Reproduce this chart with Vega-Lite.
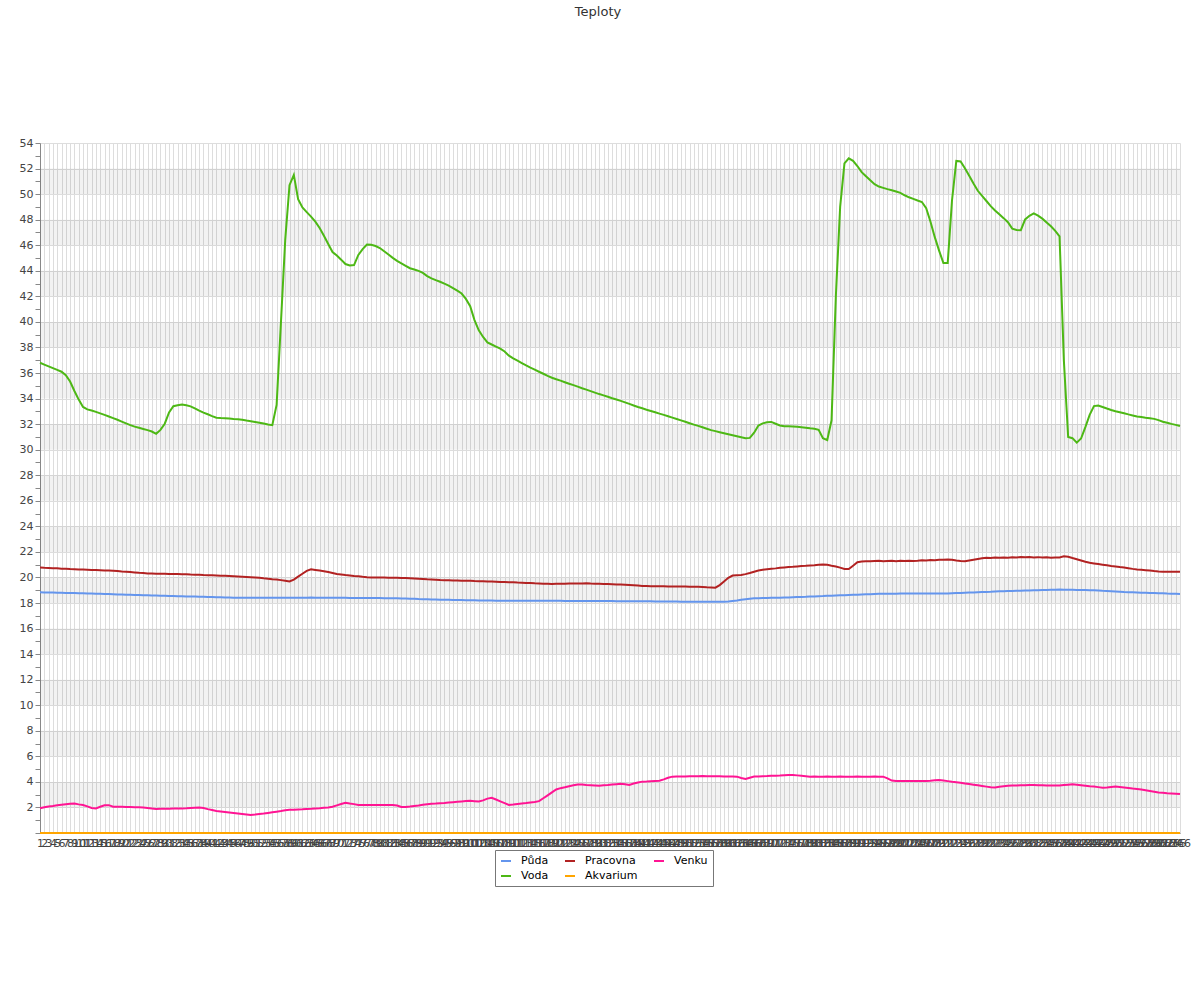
{
"$schema":"https://vega.github.io/schema/vega-lite/v6.json",
"width":1140,"height":690,
"autosize":{"type":"none"},
"padding":{"left":40,"top":143,"right":20,"bottom":167},
"background":"white",
"title":{"text":"Teploty","font":"DejaVu Sans","fontSize":13,"fontWeight":"normal","color":"#333","offset":118,"dx":-12},
"config":{"view":{"stroke":null},"font":"DejaVu Sans","axisY":{"labelOverlap":false}},
"datasets":{
"bands":[{"y":2,"y2":4},{"y":6,"y2":8},{"y":10,"y2":12},{"y":14,"y2":16},{"y":18,"y2":20},{"y":22,"y2":24},{"y":26,"y2":28},{"y":30,"y2":32},{"y":34,"y2":36},{"y":38,"y2":40},{"y":42,"y2":44},{"y":46,"y2":48},{"y":50,"y2":52}],
"teploty":[
{"t":1,"Půda":18.84,"Voda":36.8,"Pracovna":20.77,"Akvarium":0,"Venku":1.93},
{"t":2,"Půda":18.83,"Voda":36.66,"Pracovna":20.75,"Akvarium":0,"Venku":2.02},
{"t":3,"Půda":18.82,"Voda":36.52,"Pracovna":20.74,"Akvarium":0,"Venku":2.08},
{"t":4,"Půda":18.82,"Voda":36.38,"Pracovna":20.72,"Akvarium":0,"Venku":2.12},
{"t":5,"Půda":18.81,"Voda":36.24,"Pracovna":20.71,"Akvarium":0,"Venku":2.17},
{"t":6,"Půda":18.8,"Voda":36.1,"Pracovna":20.69,"Akvarium":0,"Venku":2.21},
{"t":7,"Půda":18.79,"Voda":35.83,"Pracovna":20.68,"Akvarium":0,"Venku":2.25},
{"t":8,"Půda":18.78,"Voda":35.33,"Pracovna":20.66,"Akvarium":0,"Venku":2.29},
{"t":9,"Půda":18.78,"Voda":34.59,"Pracovna":20.65,"Akvarium":0,"Venku":2.3},
{"t":10,"Půda":18.77,"Voda":33.92,"Pracovna":20.63,"Akvarium":0,"Venku":2.24},
{"t":11,"Půda":18.76,"Voda":33.34,"Pracovna":20.62,"Akvarium":0,"Venku":2.19},
{"t":12,"Půda":18.75,"Voda":33.15,"Pracovna":20.61,"Akvarium":0,"Venku":2.08},
{"t":13,"Půda":18.74,"Voda":33.06,"Pracovna":20.59,"Akvarium":0,"Venku":1.96},
{"t":14,"Půda":18.73,"Voda":32.96,"Pracovna":20.58,"Akvarium":0,"Venku":1.92},
{"t":15,"Půda":18.72,"Voda":32.84,"Pracovna":20.57,"Akvarium":0,"Venku":2.05},
{"t":16,"Půda":18.71,"Voda":32.72,"Pracovna":20.55,"Akvarium":0,"Venku":2.17},
{"t":17,"Půda":18.7,"Voda":32.6,"Pracovna":20.54,"Akvarium":0,"Venku":2.18},
{"t":18,"Půda":18.69,"Voda":32.47,"Pracovna":20.53,"Akvarium":0,"Venku":2.06},
{"t":19,"Půda":18.67,"Voda":32.34,"Pracovna":20.5,"Akvarium":0,"Venku":2.05},
{"t":20,"Půda":18.66,"Voda":32.2,"Pracovna":20.47,"Akvarium":0,"Venku":2.05},
{"t":21,"Půda":18.65,"Voda":32.06,"Pracovna":20.45,"Akvarium":0,"Venku":2.04},
{"t":22,"Půda":18.64,"Voda":31.92,"Pracovna":20.42,"Akvarium":0,"Venku":2.03},
{"t":23,"Půda":18.63,"Voda":31.8,"Pracovna":20.39,"Akvarium":0,"Venku":2.02},
{"t":24,"Půda":18.62,"Voda":31.71,"Pracovna":20.36,"Akvarium":0,"Venku":2.02},
{"t":25,"Půda":18.61,"Voda":31.62,"Pracovna":20.34,"Akvarium":0,"Venku":2.0},
{"t":26,"Půda":18.6,"Voda":31.53,"Pracovna":20.31,"Akvarium":0,"Venku":1.96},
{"t":27,"Půda":18.59,"Voda":31.42,"Pracovna":20.3,"Akvarium":0,"Venku":1.92},
{"t":28,"Půda":18.58,"Voda":31.24,"Pracovna":20.29,"Akvarium":0,"Venku":1.88},
{"t":29,"Půda":18.57,"Voda":31.55,"Pracovna":20.28,"Akvarium":0,"Venku":1.89},
{"t":30,"Půda":18.56,"Voda":32.03,"Pracovna":20.28,"Akvarium":0,"Venku":1.9},
{"t":31,"Půda":18.55,"Voda":32.92,"Pracovna":20.27,"Akvarium":0,"Venku":1.9},
{"t":32,"Půda":18.54,"Voda":33.4,"Pracovna":20.27,"Akvarium":0,"Venku":1.91},
{"t":33,"Půda":18.53,"Voda":33.47,"Pracovna":20.26,"Akvarium":0,"Venku":1.92},
{"t":34,"Půda":18.52,"Voda":33.54,"Pracovna":20.25,"Akvarium":0,"Venku":1.92},
{"t":35,"Půda":18.51,"Voda":33.47,"Pracovna":20.25,"Akvarium":0,"Venku":1.93},
{"t":36,"Půda":18.5,"Voda":33.39,"Pracovna":20.23,"Akvarium":0,"Venku":1.96},
{"t":37,"Půda":18.5,"Voda":33.23,"Pracovna":20.22,"Akvarium":0,"Venku":1.98},
{"t":38,"Půda":18.49,"Voda":33.05,"Pracovna":20.21,"Akvarium":0,"Venku":2.0},
{"t":39,"Půda":18.48,"Voda":32.9,"Pracovna":20.19,"Akvarium":0,"Venku":1.95},
{"t":40,"Půda":18.47,"Voda":32.77,"Pracovna":20.18,"Akvarium":0,"Venku":1.87},
{"t":41,"Půda":18.46,"Voda":32.63,"Pracovna":20.17,"Akvarium":0,"Venku":1.8},
{"t":42,"Půda":18.45,"Voda":32.5,"Pracovna":20.16,"Akvarium":0,"Venku":1.73},
{"t":43,"Půda":18.45,"Voda":32.47,"Pracovna":20.14,"Akvarium":0,"Venku":1.69},
{"t":44,"Půda":18.44,"Voda":32.45,"Pracovna":20.13,"Akvarium":0,"Venku":1.65},
{"t":45,"Půda":18.43,"Voda":32.43,"Pracovna":20.11,"Akvarium":0,"Venku":1.61},
{"t":46,"Půda":18.42,"Voda":32.4,"Pracovna":20.09,"Akvarium":0,"Venku":1.57},
{"t":47,"Půda":18.42,"Voda":32.38,"Pracovna":20.07,"Akvarium":0,"Venku":1.53},
{"t":48,"Půda":18.42,"Voda":32.34,"Pracovna":20.05,"Akvarium":0,"Venku":1.49},
{"t":49,"Půda":18.42,"Voda":32.28,"Pracovna":20.03,"Akvarium":0,"Venku":1.45},
{"t":50,"Půda":18.42,"Voda":32.23,"Pracovna":20.01,"Akvarium":0,"Venku":1.41},
{"t":51,"Půda":18.42,"Voda":32.17,"Pracovna":19.99,"Akvarium":0,"Venku":1.44},
{"t":52,"Půda":18.42,"Voda":32.11,"Pracovna":19.97,"Akvarium":0,"Venku":1.48},
{"t":53,"Půda":18.42,"Voda":32.04,"Pracovna":19.93,"Akvarium":0,"Venku":1.52},
{"t":54,"Půda":18.42,"Voda":31.97,"Pracovna":19.9,"Akvarium":0,"Venku":1.57},
{"t":55,"Půda":18.42,"Voda":31.92,"Pracovna":19.86,"Akvarium":0,"Venku":1.62},
{"t":56,"Půda":18.42,"Voda":33.5,"Pracovna":19.83,"Akvarium":0,"Venku":1.67},
{"t":57,"Půda":18.42,"Voda":39.9,"Pracovna":19.79,"Akvarium":0,"Venku":1.72},
{"t":58,"Půda":18.42,"Voda":46.4,"Pracovna":19.74,"Akvarium":0,"Venku":1.78},
{"t":59,"Půda":18.42,"Voda":50.7,"Pracovna":19.69,"Akvarium":0,"Venku":1.81},
{"t":60,"Půda":18.42,"Voda":51.5,"Pracovna":19.83,"Akvarium":0,"Venku":1.82},
{"t":61,"Půda":18.42,"Voda":49.6,"Pracovna":20.06,"Akvarium":0,"Venku":1.84},
{"t":62,"Půda":18.42,"Voda":48.95,"Pracovna":20.29,"Akvarium":0,"Venku":1.85},
{"t":63,"Půda":18.42,"Voda":48.59,"Pracovna":20.52,"Akvarium":0,"Venku":1.87},
{"t":64,"Půda":18.44,"Voda":48.24,"Pracovna":20.64,"Akvarium":0,"Venku":1.89},
{"t":65,"Půda":18.42,"Voda":47.85,"Pracovna":20.59,"Akvarium":0,"Venku":1.92},
{"t":66,"Půda":18.42,"Voda":47.35,"Pracovna":20.54,"Akvarium":0,"Venku":1.94},
{"t":67,"Půda":18.42,"Voda":46.74,"Pracovna":20.49,"Akvarium":0,"Venku":1.97},
{"t":68,"Půda":18.42,"Voda":46.09,"Pracovna":20.42,"Akvarium":0,"Venku":1.99},
{"t":69,"Půda":18.41,"Voda":45.47,"Pracovna":20.35,"Akvarium":0,"Venku":2.05},
{"t":70,"Půda":18.41,"Voda":45.19,"Pracovna":20.27,"Akvarium":0,"Venku":2.16},
{"t":71,"Půda":18.41,"Voda":44.87,"Pracovna":20.23,"Akvarium":0,"Venku":2.27},
{"t":72,"Půda":18.41,"Voda":44.53,"Pracovna":20.19,"Akvarium":0,"Venku":2.37},
{"t":73,"Půda":18.4,"Voda":44.42,"Pracovna":20.16,"Akvarium":0,"Venku":2.31},
{"t":74,"Půda":18.4,"Voda":44.45,"Pracovna":20.12,"Akvarium":0,"Venku":2.26},
{"t":75,"Půda":18.4,"Voda":45.24,"Pracovna":20.09,"Akvarium":0,"Venku":2.2},
{"t":76,"Půda":18.4,"Voda":45.69,"Pracovna":20.05,"Akvarium":0,"Venku":2.19},
{"t":77,"Půda":18.39,"Voda":46.06,"Pracovna":20.02,"Akvarium":0,"Venku":2.19},
{"t":78,"Půda":18.39,"Voda":46.03,"Pracovna":20.0,"Akvarium":0,"Venku":2.19},
{"t":79,"Půda":18.39,"Voda":45.94,"Pracovna":20.0,"Akvarium":0,"Venku":2.19},
{"t":80,"Půda":18.39,"Voda":45.78,"Pracovna":19.99,"Akvarium":0,"Venku":2.19},
{"t":81,"Půda":18.38,"Voda":45.53,"Pracovna":19.99,"Akvarium":0,"Venku":2.19},
{"t":82,"Půda":18.38,"Voda":45.27,"Pracovna":19.98,"Akvarium":0,"Venku":2.19},
{"t":83,"Půda":18.38,"Voda":45.01,"Pracovna":19.98,"Akvarium":0,"Venku":2.19},
{"t":84,"Půda":18.37,"Voda":44.77,"Pracovna":19.97,"Akvarium":0,"Venku":2.15},
{"t":85,"Půda":18.36,"Voda":44.58,"Pracovna":19.96,"Akvarium":0,"Venku":2.03},
{"t":86,"Půda":18.35,"Voda":44.39,"Pracovna":19.95,"Akvarium":0,"Venku":2.03},
{"t":87,"Půda":18.34,"Voda":44.2,"Pracovna":19.93,"Akvarium":0,"Venku":2.07},
{"t":88,"Půda":18.33,"Voda":44.1,"Pracovna":19.91,"Akvarium":0,"Venku":2.12},
{"t":89,"Půda":18.31,"Voda":43.99,"Pracovna":19.89,"Akvarium":0,"Venku":2.16},
{"t":90,"Půda":18.3,"Voda":43.83,"Pracovna":19.87,"Akvarium":0,"Venku":2.21},
{"t":91,"Půda":18.29,"Voda":43.58,"Pracovna":19.85,"Akvarium":0,"Venku":2.25},
{"t":92,"Půda":18.28,"Voda":43.41,"Pracovna":19.84,"Akvarium":0,"Venku":2.28},
{"t":93,"Půda":18.27,"Voda":43.27,"Pracovna":19.82,"Akvarium":0,"Venku":2.3},
{"t":94,"Půda":18.26,"Voda":43.14,"Pracovna":19.8,"Akvarium":0,"Venku":2.33},
{"t":95,"Půda":18.25,"Voda":42.99,"Pracovna":19.79,"Akvarium":0,"Venku":2.35},
{"t":96,"Půda":18.25,"Voda":42.84,"Pracovna":19.78,"Akvarium":0,"Venku":2.38},
{"t":97,"Půda":18.24,"Voda":42.65,"Pracovna":19.77,"Akvarium":0,"Venku":2.41},
{"t":98,"Půda":18.23,"Voda":42.44,"Pracovna":19.76,"Akvarium":0,"Venku":2.44},
{"t":99,"Půda":18.23,"Voda":42.22,"Pracovna":19.75,"Akvarium":0,"Venku":2.47},
{"t":100,"Půda":18.22,"Voda":41.8,"Pracovna":19.75,"Akvarium":0,"Venku":2.5},
{"t":101,"Půda":18.22,"Voda":41.23,"Pracovna":19.74,"Akvarium":0,"Venku":2.52},
{"t":102,"Půda":18.21,"Voda":40.14,"Pracovna":19.72,"Akvarium":0,"Venku":2.49},
{"t":103,"Půda":18.2,"Voda":39.34,"Pracovna":19.71,"Akvarium":0,"Venku":2.46},
{"t":104,"Půda":18.2,"Voda":38.82,"Pracovna":19.7,"Akvarium":0,"Venku":2.55},
{"t":105,"Půda":18.19,"Voda":38.4,"Pracovna":19.69,"Akvarium":0,"Venku":2.69},
{"t":106,"Půda":18.19,"Voda":38.23,"Pracovna":19.68,"Akvarium":0,"Venku":2.76},
{"t":107,"Půda":18.18,"Voda":38.07,"Pracovna":19.67,"Akvarium":0,"Venku":2.62},
{"t":108,"Půda":18.18,"Voda":37.9,"Pracovna":19.65,"Akvarium":0,"Venku":2.48},
{"t":109,"Půda":18.18,"Voda":37.68,"Pracovna":19.64,"Akvarium":0,"Venku":2.34},
{"t":110,"Půda":18.18,"Voda":37.36,"Pracovna":19.63,"Akvarium":0,"Venku":2.2},
{"t":111,"Půda":18.18,"Voda":37.14,"Pracovna":19.62,"Akvarium":0,"Venku":2.23},
{"t":112,"Půda":18.18,"Voda":36.96,"Pracovna":19.6,"Akvarium":0,"Venku":2.27},
{"t":113,"Půda":18.18,"Voda":36.78,"Pracovna":19.59,"Akvarium":0,"Venku":2.31},
{"t":114,"Půda":18.18,"Voda":36.59,"Pracovna":19.57,"Akvarium":0,"Venku":2.34},
{"t":115,"Půda":18.18,"Voda":36.42,"Pracovna":19.56,"Akvarium":0,"Venku":2.38},
{"t":116,"Půda":18.17,"Voda":36.26,"Pracovna":19.54,"Akvarium":0,"Venku":2.42},
{"t":117,"Půda":18.17,"Voda":36.1,"Pracovna":19.53,"Akvarium":0,"Venku":2.49},
{"t":118,"Půda":18.17,"Voda":35.94,"Pracovna":19.51,"Akvarium":0,"Venku":2.72},
{"t":119,"Půda":18.17,"Voda":35.77,"Pracovna":19.5,"Akvarium":0,"Venku":2.95},
{"t":120,"Půda":18.17,"Voda":35.63,"Pracovna":19.49,"Akvarium":0,"Venku":3.18},
{"t":121,"Půda":18.17,"Voda":35.51,"Pracovna":19.5,"Akvarium":0,"Venku":3.41},
{"t":122,"Půda":18.17,"Voda":35.4,"Pracovna":19.5,"Akvarium":0,"Venku":3.51},
{"t":123,"Půda":18.16,"Voda":35.28,"Pracovna":19.51,"Akvarium":0,"Venku":3.58},
{"t":124,"Půda":18.16,"Voda":35.16,"Pracovna":19.52,"Akvarium":0,"Venku":3.66},
{"t":125,"Půda":18.16,"Voda":35.05,"Pracovna":19.52,"Akvarium":0,"Venku":3.73},
{"t":126,"Půda":18.16,"Voda":34.93,"Pracovna":19.53,"Akvarium":0,"Venku":3.8},
{"t":127,"Půda":18.16,"Voda":34.81,"Pracovna":19.53,"Akvarium":0,"Venku":3.79},
{"t":128,"Půda":18.16,"Voda":34.7,"Pracovna":19.54,"Akvarium":0,"Venku":3.76},
{"t":129,"Půda":18.15,"Voda":34.58,"Pracovna":19.52,"Akvarium":0,"Venku":3.74},
{"t":130,"Půda":18.15,"Voda":34.46,"Pracovna":19.51,"Akvarium":0,"Venku":3.72},
{"t":131,"Půda":18.15,"Voda":34.35,"Pracovna":19.5,"Akvarium":0,"Venku":3.7},
{"t":132,"Půda":18.15,"Voda":34.25,"Pracovna":19.49,"Akvarium":0,"Venku":3.74},
{"t":133,"Půda":18.15,"Voda":34.14,"Pracovna":19.48,"Akvarium":0,"Venku":3.76},
{"t":134,"Půda":18.15,"Voda":34.03,"Pracovna":19.47,"Akvarium":0,"Venku":3.79},
{"t":135,"Půda":18.14,"Voda":33.93,"Pracovna":19.45,"Akvarium":0,"Venku":3.82},
{"t":136,"Půda":18.14,"Voda":33.82,"Pracovna":19.44,"Akvarium":0,"Venku":3.85},
{"t":137,"Půda":18.14,"Voda":33.7,"Pracovna":19.42,"Akvarium":0,"Venku":3.81},
{"t":138,"Půda":18.14,"Voda":33.58,"Pracovna":19.4,"Akvarium":0,"Venku":3.76},
{"t":139,"Půda":18.14,"Voda":33.46,"Pracovna":19.38,"Akvarium":0,"Venku":3.87},
{"t":140,"Půda":18.13,"Voda":33.34,"Pracovna":19.36,"Akvarium":0,"Venku":3.95},
{"t":141,"Půda":18.13,"Voda":33.24,"Pracovna":19.34,"Akvarium":0,"Venku":4.02},
{"t":142,"Půda":18.13,"Voda":33.13,"Pracovna":19.33,"Akvarium":0,"Venku":4.03},
{"t":143,"Půda":18.13,"Voda":33.03,"Pracovna":19.32,"Akvarium":0,"Venku":4.05},
{"t":144,"Půda":18.12,"Voda":32.93,"Pracovna":19.32,"Akvarium":0,"Venku":4.07},
{"t":145,"Půda":18.12,"Voda":32.82,"Pracovna":19.31,"Akvarium":0,"Venku":4.09},
{"t":146,"Půda":18.12,"Voda":32.72,"Pracovna":19.31,"Akvarium":0,"Venku":4.2},
{"t":147,"Půda":18.11,"Voda":32.62,"Pracovna":19.3,"Akvarium":0,"Venku":4.32},
{"t":148,"Půda":18.11,"Voda":32.51,"Pracovna":19.3,"Akvarium":0,"Venku":4.41},
{"t":149,"Půda":18.11,"Voda":32.4,"Pracovna":19.3,"Akvarium":0,"Venku":4.42},
{"t":150,"Půda":18.1,"Voda":32.29,"Pracovna":19.29,"Akvarium":0,"Venku":4.42},
{"t":151,"Půda":18.1,"Voda":32.18,"Pracovna":19.29,"Akvarium":0,"Venku":4.43},
{"t":152,"Půda":18.1,"Voda":32.07,"Pracovna":19.28,"Akvarium":0,"Venku":4.44},
{"t":153,"Půda":18.1,"Voda":31.96,"Pracovna":19.28,"Akvarium":0,"Venku":4.44},
{"t":154,"Půda":18.1,"Voda":31.86,"Pracovna":19.27,"Akvarium":0,"Venku":4.45},
{"t":155,"Půda":18.1,"Voda":31.75,"Pracovna":19.25,"Akvarium":0,"Venku":4.46},
{"t":156,"Půda":18.1,"Voda":31.64,"Pracovna":19.23,"Akvarium":0,"Venku":4.45},
{"t":157,"Půda":18.1,"Voda":31.53,"Pracovna":19.22,"Akvarium":0,"Venku":4.45},
{"t":158,"Půda":18.1,"Voda":31.45,"Pracovna":19.2,"Akvarium":0,"Venku":4.44},
{"t":159,"Půda":18.1,"Voda":31.37,"Pracovna":19.4,"Akvarium":0,"Venku":4.44},
{"t":160,"Půda":18.1,"Voda":31.29,"Pracovna":19.68,"Akvarium":0,"Venku":4.43},
{"t":161,"Půda":18.11,"Voda":31.21,"Pracovna":19.97,"Akvarium":0,"Venku":4.43},
{"t":162,"Půda":18.16,"Voda":31.13,"Pracovna":20.15,"Akvarium":0,"Venku":4.42},
{"t":163,"Půda":18.2,"Voda":31.05,"Pracovna":20.17,"Akvarium":0,"Venku":4.41},
{"t":164,"Půda":18.25,"Voda":30.97,"Pracovna":20.19,"Akvarium":0,"Venku":4.31},
{"t":165,"Půda":18.3,"Voda":30.89,"Pracovna":20.26,"Akvarium":0,"Venku":4.23},
{"t":166,"Půda":18.34,"Voda":30.92,"Pracovna":20.35,"Akvarium":0,"Venku":4.33},
{"t":167,"Půda":18.37,"Voda":31.33,"Pracovna":20.45,"Akvarium":0,"Venku":4.42},
{"t":168,"Půda":18.38,"Voda":31.89,"Pracovna":20.54,"Akvarium":0,"Venku":4.43},
{"t":169,"Půda":18.39,"Voda":32.06,"Pracovna":20.6,"Akvarium":0,"Venku":4.45},
{"t":170,"Půda":18.4,"Voda":32.14,"Pracovna":20.64,"Akvarium":0,"Venku":4.46},
{"t":171,"Půda":18.41,"Voda":32.17,"Pracovna":20.68,"Akvarium":0,"Venku":4.48},
{"t":172,"Půda":18.41,"Voda":32.03,"Pracovna":20.71,"Akvarium":0,"Venku":4.49},
{"t":173,"Půda":18.42,"Voda":31.89,"Pracovna":20.75,"Akvarium":0,"Venku":4.5},
{"t":174,"Půda":18.43,"Voda":31.84,"Pracovna":20.78,"Akvarium":0,"Venku":4.52},
{"t":175,"Půda":18.44,"Voda":31.83,"Pracovna":20.81,"Akvarium":0,"Venku":4.53},
{"t":176,"Půda":18.45,"Voda":31.81,"Pracovna":20.83,"Akvarium":0,"Venku":4.54},
{"t":177,"Půda":18.46,"Voda":31.79,"Pracovna":20.86,"Akvarium":0,"Venku":4.51},
{"t":178,"Půda":18.47,"Voda":31.75,"Pracovna":20.89,"Akvarium":0,"Venku":4.48},
{"t":179,"Půda":18.48,"Voda":31.71,"Pracovna":20.91,"Akvarium":0,"Venku":4.45},
{"t":180,"Půda":18.5,"Voda":31.67,"Pracovna":20.94,"Akvarium":0,"Venku":4.41},
{"t":181,"Půda":18.51,"Voda":31.64,"Pracovna":20.96,"Akvarium":0,"Venku":4.42},
{"t":182,"Půda":18.53,"Voda":31.55,"Pracovna":20.99,"Akvarium":0,"Venku":4.4},
{"t":183,"Půda":18.54,"Voda":30.9,"Pracovna":21.01,"Akvarium":0,"Venku":4.41},
{"t":184,"Půda":18.56,"Voda":30.75,"Pracovna":21.0,"Akvarium":0,"Venku":4.42},
{"t":185,"Půda":18.57,"Voda":32.3,"Pracovna":20.92,"Akvarium":0,"Venku":4.4},
{"t":186,"Půda":18.59,"Voda":42,"Pracovna":20.85,"Akvarium":0,"Venku":4.41},
{"t":187,"Půda":18.6,"Voda":49,"Pracovna":20.77,"Akvarium":0,"Venku":4.43},
{"t":188,"Půda":18.61,"Voda":52.4,"Pracovna":20.66,"Akvarium":0,"Venku":4.41},
{"t":189,"Půda":18.63,"Voda":52.8,"Pracovna":20.66,"Akvarium":0,"Venku":4.4},
{"t":190,"Půda":18.64,"Voda":52.6,"Pracovna":20.92,"Akvarium":0,"Venku":4.41},
{"t":191,"Půda":18.65,"Voda":52.2,"Pracovna":21.19,"Akvarium":0,"Venku":4.42},
{"t":192,"Půda":18.67,"Voda":51.72,"Pracovna":21.25,"Akvarium":0,"Venku":4.41},
{"t":193,"Půda":18.68,"Voda":51.4,"Pracovna":21.26,"Akvarium":0,"Venku":4.4},
{"t":194,"Půda":18.69,"Voda":51.09,"Pracovna":21.27,"Akvarium":0,"Venku":4.41},
{"t":195,"Půda":18.71,"Voda":50.78,"Pracovna":21.29,"Akvarium":0,"Venku":4.42},
{"t":196,"Půda":18.72,"Voda":50.59,"Pracovna":21.3,"Akvarium":0,"Venku":4.41},
{"t":197,"Půda":18.72,"Voda":50.49,"Pracovna":21.27,"Akvarium":0,"Venku":4.41},
{"t":198,"Půda":18.72,"Voda":50.39,"Pracovna":21.29,"Akvarium":0,"Venku":4.28},
{"t":199,"Půda":18.72,"Voda":50.3,"Pracovna":21.31,"Akvarium":0,"Venku":4.1},
{"t":200,"Půda":18.72,"Voda":50.2,"Pracovna":21.27,"Akvarium":0,"Venku":4.07},
{"t":201,"Půda":18.74,"Voda":50.1,"Pracovna":21.3,"Akvarium":0,"Venku":4.07},
{"t":202,"Půda":18.74,"Voda":49.91,"Pracovna":21.28,"Akvarium":0,"Venku":4.07},
{"t":203,"Půda":18.74,"Voda":49.75,"Pracovna":21.3,"Akvarium":0,"Venku":4.07},
{"t":204,"Půda":18.74,"Voda":49.63,"Pracovna":21.29,"Akvarium":0,"Venku":4.07},
{"t":205,"Půda":18.74,"Voda":49.5,"Pracovna":21.31,"Akvarium":0,"Venku":4.07},
{"t":206,"Půda":18.74,"Voda":49.38,"Pracovna":21.35,"Akvarium":0,"Venku":4.07},
{"t":207,"Půda":18.75,"Voda":48.9,"Pracovna":21.33,"Akvarium":0,"Venku":4.07},
{"t":208,"Půda":18.75,"Voda":47.84,"Pracovna":21.36,"Akvarium":0,"Venku":4.09},
{"t":209,"Půda":18.75,"Voda":46.63,"Pracovna":21.34,"Akvarium":0,"Venku":4.13},
{"t":210,"Půda":18.75,"Voda":45.58,"Pracovna":21.39,"Akvarium":0,"Venku":4.14},
{"t":211,"Půda":18.75,"Voda":44.6,"Pracovna":21.38,"Akvarium":0,"Venku":4.1},
{"t":212,"Půda":18.75,"Voda":44.6,"Pracovna":21.41,"Akvarium":0,"Venku":4.06},
{"t":213,"Půda":18.77,"Voda":49.5,"Pracovna":21.39,"Akvarium":0,"Venku":4.01},
{"t":214,"Půda":18.78,"Voda":52.6,"Pracovna":21.33,"Akvarium":0,"Venku":3.97},
{"t":215,"Půda":18.79,"Voda":52.55,"Pracovna":21.28,"Akvarium":0,"Venku":3.93},
{"t":216,"Půda":18.81,"Voda":52.02,"Pracovna":21.26,"Akvarium":0,"Venku":3.88},
{"t":217,"Půda":18.82,"Voda":51.43,"Pracovna":21.32,"Akvarium":0,"Venku":3.83},
{"t":218,"Půda":18.83,"Voda":50.83,"Pracovna":21.38,"Akvarium":0,"Venku":3.78},
{"t":219,"Půda":18.85,"Voda":50.26,"Pracovna":21.44,"Akvarium":0,"Venku":3.73},
{"t":220,"Půda":18.86,"Voda":49.86,"Pracovna":21.5,"Akvarium":0,"Venku":3.68},
{"t":221,"Půda":18.87,"Voda":49.46,"Pracovna":21.55,"Akvarium":0,"Venku":3.63},
{"t":222,"Půda":18.88,"Voda":49.06,"Pracovna":21.53,"Akvarium":0,"Venku":3.58},
{"t":223,"Půda":18.9,"Voda":48.72,"Pracovna":21.56,"Akvarium":0,"Venku":3.57},
{"t":224,"Půda":18.91,"Voda":48.42,"Pracovna":21.54,"Akvarium":0,"Venku":3.62},
{"t":225,"Půda":18.92,"Voda":48.12,"Pracovna":21.57,"Akvarium":0,"Venku":3.66},
{"t":226,"Půda":18.93,"Voda":47.8,"Pracovna":21.55,"Akvarium":0,"Venku":3.7},
{"t":227,"Půda":18.94,"Voda":47.3,"Pracovna":21.58,"Akvarium":0,"Venku":3.71},
{"t":228,"Půda":18.95,"Voda":47.19,"Pracovna":21.56,"Akvarium":0,"Venku":3.72},
{"t":229,"Půda":18.96,"Voda":47.18,"Pracovna":21.6,"Akvarium":0,"Venku":3.73},
{"t":230,"Půda":18.97,"Voda":48.02,"Pracovna":21.58,"Akvarium":0,"Venku":3.74},
{"t":231,"Půda":18.98,"Voda":48.3,"Pracovna":21.6,"Akvarium":0,"Venku":3.76},
{"t":232,"Půda":18.99,"Voda":48.49,"Pracovna":21.57,"Akvarium":0,"Venku":3.75},
{"t":233,"Půda":19.0,"Voda":48.31,"Pracovna":21.59,"Akvarium":0,"Venku":3.74},
{"t":234,"Půda":19.01,"Voda":48.08,"Pracovna":21.56,"Akvarium":0,"Venku":3.73},
{"t":235,"Půda":19.02,"Voda":47.78,"Pracovna":21.58,"Akvarium":0,"Venku":3.72},
{"t":236,"Půda":19.03,"Voda":47.48,"Pracovna":21.55,"Akvarium":0,"Venku":3.72},
{"t":237,"Půda":19.04,"Voda":47.13,"Pracovna":21.57,"Akvarium":0,"Venku":3.71},
{"t":238,"Půda":19.05,"Voda":46.7,"Pracovna":21.57,"Akvarium":0,"Venku":3.71},
{"t":239,"Půda":19.04,"Voda":37,"Pracovna":21.65,"Akvarium":0,"Venku":3.75},
{"t":240,"Půda":19.04,"Voda":31.0,"Pracovna":21.62,"Akvarium":0,"Venku":3.78},
{"t":241,"Půda":19.03,"Voda":30.9,"Pracovna":21.52,"Akvarium":0,"Venku":3.81},
{"t":242,"Půda":19.02,"Voda":30.55,"Pracovna":21.43,"Akvarium":0,"Venku":3.78},
{"t":243,"Půda":19.02,"Voda":30.87,"Pracovna":21.33,"Akvarium":0,"Venku":3.74},
{"t":244,"Půda":19.01,"Voda":31.76,"Pracovna":21.23,"Akvarium":0,"Venku":3.7},
{"t":245,"Půda":19.0,"Voda":32.72,"Pracovna":21.15,"Akvarium":0,"Venku":3.66},
{"t":246,"Půda":18.99,"Voda":33.41,"Pracovna":21.1,"Akvarium":0,"Venku":3.63},
{"t":247,"Půda":18.97,"Voda":33.45,"Pracovna":21.05,"Akvarium":0,"Venku":3.59},
{"t":248,"Půda":18.95,"Voda":33.34,"Pracovna":21.0,"Akvarium":0,"Venku":3.55},
{"t":249,"Půda":18.94,"Voda":33.22,"Pracovna":20.95,"Akvarium":0,"Venku":3.57},
{"t":250,"Půda":18.92,"Voda":33.11,"Pracovna":20.9,"Akvarium":0,"Venku":3.6},
{"t":251,"Půda":18.9,"Voda":33.01,"Pracovna":20.86,"Akvarium":0,"Venku":3.63},
{"t":252,"Půda":18.88,"Voda":32.93,"Pracovna":20.81,"Akvarium":0,"Venku":3.6},
{"t":253,"Půda":18.86,"Voda":32.85,"Pracovna":20.77,"Akvarium":0,"Venku":3.56},
{"t":254,"Půda":18.85,"Voda":32.76,"Pracovna":20.72,"Akvarium":0,"Venku":3.52},
{"t":255,"Půda":18.84,"Voda":32.68,"Pracovna":20.67,"Akvarium":0,"Venku":3.48},
{"t":256,"Půda":18.83,"Voda":32.6,"Pracovna":20.63,"Akvarium":0,"Venku":3.45},
{"t":257,"Půda":18.81,"Voda":32.55,"Pracovna":20.6,"Akvarium":0,"Venku":3.41},
{"t":258,"Půda":18.8,"Voda":32.5,"Pracovna":20.57,"Akvarium":0,"Venku":3.35},
{"t":259,"Půda":18.79,"Voda":32.46,"Pracovna":20.54,"Akvarium":0,"Venku":3.29},
{"t":260,"Půda":18.78,"Voda":32.41,"Pracovna":20.5,"Akvarium":0,"Venku":3.23},
{"t":261,"Půda":18.77,"Voda":32.31,"Pracovna":20.47,"Akvarium":0,"Venku":3.17},
{"t":262,"Půda":18.76,"Voda":32.19,"Pracovna":20.45,"Akvarium":0,"Venku":3.15},
{"t":263,"Půda":18.74,"Voda":32.11,"Pracovna":20.45,"Akvarium":0,"Venku":3.12},
{"t":264,"Půda":18.73,"Voda":32.02,"Pracovna":20.45,"Akvarium":0,"Venku":3.1},
{"t":265,"Půda":18.72,"Voda":31.94,"Pracovna":20.45,"Akvarium":0,"Venku":3.08},
{"t":266,"Půda":18.71,"Voda":31.85,"Pracovna":20.45,"Akvarium":0,"Venku":3.05}
]},
"layer":[
{"data":{"name":"bands"},
 "mark":{"type":"rect","fill":"#000","fillOpacity":0.05},
 "encoding":{"y":{"field":"y","type":"quantitative","scale":{"domain":[0,54],"nice":false}},"y2":{"field":"y2"}}},
{"data":{"name":"teploty"},
 "transform":[{"fold":["Půda","Voda","Pracovna","Akvarium","Venku"],"as":["serie","teplota"]}],
 "mark":{"type":"line","strokeWidth":2},
 "encoding":{
  "x":{"field":"t","type":"ordinal","sort":"ascending","scale":{"type":"point","padding":0},
       "axis":{"title":null,"labelAngle":0,"labelOverlap":false,"labelFontSize":11,"labelColor":"#444","labelPadding":4,"grid":true,"gridColor":"#ddd","ticks":false,"domainColor":"#888"}},
  "y":{"field":"teplota","type":"quantitative","scale":{"domain":[0,54],"nice":false},
       "axis":{"title":null,"tickCount":200,"format":"d","values":[0,1,2,3,4,5,6,7,8,9,10,11,12,13,14,15,16,17,18,19,20,21,22,23,24,25,26,27,28,29,30,31,32,33,34,35,36,37,38,39,40,41,42,43,44,45,46,47,48,49,50,51,52,53,54],
               "labelOverlap":false,
               "labelExpr":"(datum.value % 2 == 0 && datum.value > 0) ? datum.label : ''",
               "labelFontSize":{"condition":{"test":"datum.value % 2 == 1 || datum.value == 0","value":0},"value":11},
               "gridColor":{"condition":{"test":"datum.value % 2 == 1","value":"transparent"},"value":"#ddd"},
               "tickColor":"#888","tickSize":5,"domainColor":"#888","labelColor":"#444","labelPadding":2}},
  "color":{"field":"serie","type":"nominal",
       "scale":{"domain":["Půda","Voda","Pracovna","Akvarium","Venku"],"range":["#6495ED","#4DB815","#B22222","#FFA500","#FF1493"]},
       "legend":{"orient":"none","legendX":455,"legendY":707,"columns":3,"title":null,"symbolType":"stroke","symbolStrokeWidth":2,"symbolSize":100,"labelFontSize":11,"labelColor":"#000","strokeColor":"#777","padding":5,"rowPadding":4,"columnPadding":12,"labelOffset":9}}
 }}
]
}
